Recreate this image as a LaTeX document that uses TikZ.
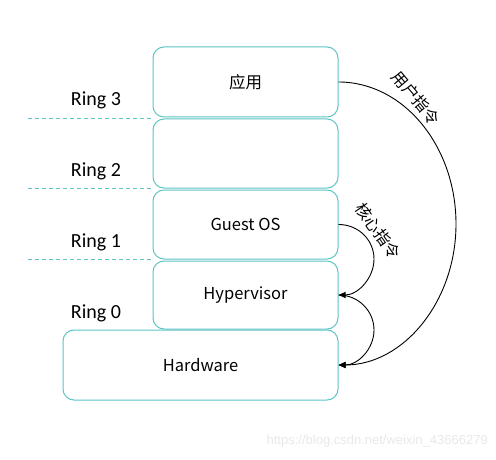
\documentclass[tikz,border=0pt]{standalone}
\usepackage{fontspec}
\setmainfont{Noto Sans CJK SC}
\newfontfamily\ringfont{Carlito}
\newfontfamily\wmfont{Liberation Sans}
\usetikzlibrary{arrows.meta}
\definecolor{teal1}{RGB}{95,196,198}
\definecolor{wm}{RGB}{232,232,232}
\tikzset{
  layer/.style={draw=teal1, line width=1pt, rounded corners=11pt, fill=white,
    minimum width=185pt, inner sep=0pt, font=\fontsize{16.5}{19}\selectfont},
  ringlbl/.style={font=\ringfont\fontsize{20}{23}\selectfont, inner sep=0pt},
  sep/.style={draw=teal1, dashed, dash pattern=on 4pt off 3pt, line width=0.8pt},
  instr/.style={draw=black, line width=0.9pt, -{Triangle[length=7pt,width=6pt]}},
  cmd/.style={font=\fontsize{16}{18}\selectfont, inner sep=0pt}
}
\begin{document}
\begin{tikzpicture}[x=1pt,y=-1pt]
\useasboundingbox (0,0) rectangle (496,460);
% dashed separators
\coordinate (d3a) at (28,118); \coordinate (d3b) at (153,118);
\coordinate (d2a) at (28,188); \coordinate (d2b) at (153,188);
\coordinate (d1a) at (28,259); \coordinate (d1b) at (153,259);
\draw[sep] (d3a) -- (d3b);
\draw[sep] (d2a) -- (d2b);
\draw[sep] (d1a) -- (d1b);
% layers
\node[layer, minimum height=70pt] (app) at (245.5,82) {应用};
\node[layer, minimum height=69pt] (empty) at (245.5,153.5) {};
\node[layer, minimum height=69pt] (guest) at (245.5,224.5) {Guest OS};
\node[layer, minimum height=68pt] (hyp) at (245.5,295) {Hypervisor};
\node[layer, minimum height=70pt, minimum width=275pt] (hw) at (200.5,365) {Hardware};
% ring labels
\node[ringlbl] (r3) at (96,100) {Ring 3};
\node[ringlbl] (r2) at (96,171) {Ring 2};
\node[ringlbl] (r1) at (96,242) {Ring 1};
\node[ringlbl] (r0) at (96,313) {Ring 0};
% arcs
\coordinate (bigmid) at (456,224);
\draw[instr] (app.east) .. controls ++(65,0) and (456,146) .. (bigmid)
  .. controls (456,302) and (403,365) .. (hw.east);
\draw[instr] (guest.east) .. controls ++(20,0) and (374,240) .. (374,259)
  .. controls (374,278) and (358,295) .. (hyp.east);
\draw[instr] (hyp.east) .. controls ++(20,0) and (374,311) .. (374,330)
  .. controls (374,349) and (358,365) .. (hw.east);
% labels on arcs
\node[cmd, rotate=-50] (user) at (416,98) {用户指令};
\node[cmd, rotate=-55] (kern) at (378,231) {核心指令};
% watermark
\node[font=\wmfont\fontsize{13}{15}\selectfont, text=wm, anchor=east, inner sep=0pt] (wmk) at (488,441) {https://blog.csdn.net/weixin\_43666279};
\end{tikzpicture}
\end{document}
